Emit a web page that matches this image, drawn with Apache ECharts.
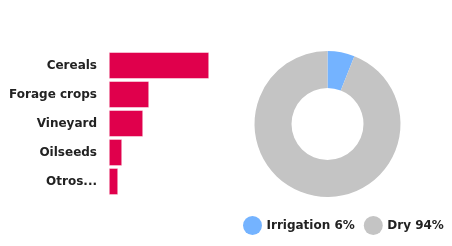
<!DOCTYPE html>
<html><head><meta charset="utf-8">
<script src="https://cdn.jsdelivr.net/npm/echarts@6/dist/echarts.min.js"></script>
<style>html,body{margin:0;padding:0;background:#fff}#c{width:452px;height:246px}</style>
</head><body><div id="c"></div>
<script>
const categories = ['Cereals', 'Forage crops', 'Vineyard', 'Oilseeds', 'Otros...'];
const cropValues = [100, 40, 34, 13, 9];
const pieNames = ['Irrigation 6%', 'Dry 94%'];
const pieValues = [6, 94];
const pieColors = ['#74b3ff', '#c4c4c4'];

const FONT = 'DejaVu Sans';
const chart = echarts.init(document.getElementById('c'));
chart.setOption({
  animation: false,
  textStyle: { fontFamily: FONT },
  grid: { left: 109, right: 243, top: 51, bottom: 50, containLabel: false },
  xAxis: { type: 'value', show: false, min: 0, max: Math.max(...cropValues) },
  yAxis: {
    type: 'category', data: categories, inverse: true,
    axisLine: { show: false }, axisTick: { show: false }, splitLine: { show: false },
    axisLabel: { margin: 12, color: '#222', fontWeight: 'bold', fontSize: 12, fontFamily: FONT }
  },
  legend: {
    data: pieNames, left: 238, top: 211, padding: 5, icon: 'circle', itemWidth: 20, itemHeight: 19, itemGap: 9,
    textStyle: { color: '#222', fontWeight: 'bold', fontSize: 12, fontFamily: FONT, padding: [0, 0, 0, -1] }
  },
  series: [
    {
      type: 'bar', data: cropValues, barCategoryGap: '8%',
      itemStyle: { color: '#e0004c', borderColor: '#fff', borderWidth: 0.5 }
    },
    {
      type: 'pie', center: [327.5, 124], radius: [36, 73], startAngle: 90, clockwise: true,
      label: { show: false }, labelLine: { show: false },
      itemStyle: { borderColor: '#fff', borderWidth: 0 },
      data: pieNames.map((n, i) => ({ name: n, value: pieValues[i], itemStyle: { color: pieColors[i] } }))
    }
  ]
});
</script></body></html>
